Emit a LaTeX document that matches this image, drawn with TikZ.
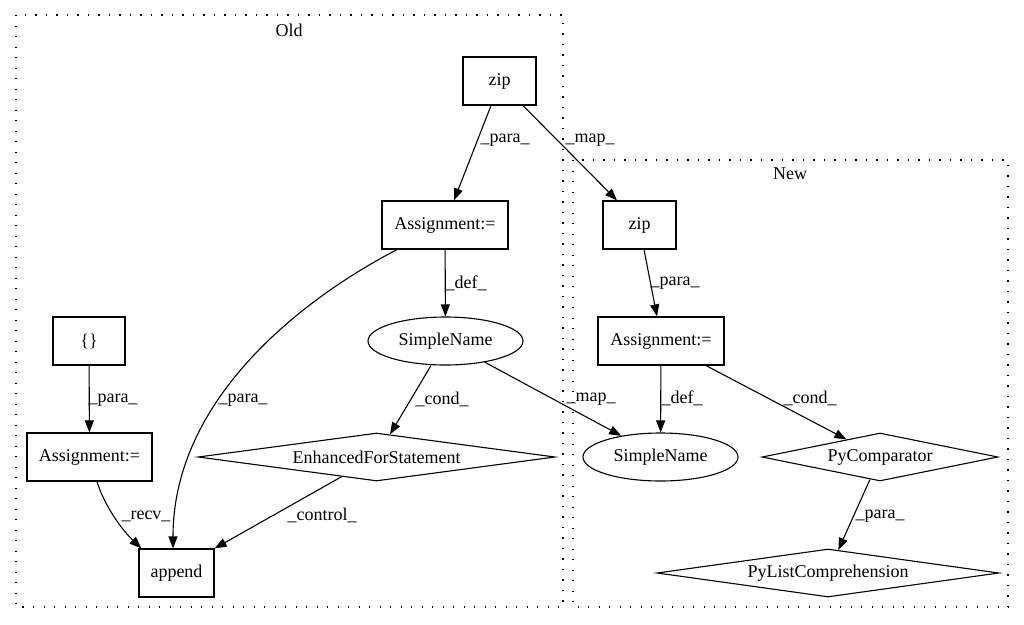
\documentclass[tikz,border=0pt]{standalone}
\usepackage{fontspec}
\setmainfont{Liberation Serif}
\usetikzlibrary{arrows.meta,shapes.geometric}
\begin{document}
\begin{tikzpicture}[x=1pt,y=-1pt,
  every node/.style={font=\fontsize{18}{21}\selectfont, inner sep=0pt},
  box/.style={draw, line width=1.2pt, rectangle, minimum height=48pt},
  oval/.style={draw, line width=1.1pt, ellipse, minimum height=48pt},
  dia/.style={draw, line width=1.1pt, diamond, minimum height=48pt},
  lbl/.style={anchor=center},
  cluster/.style={draw, line width=1.4pt, dash pattern=on 1.4pt off 9.1pt},
  edge/.style={draw, line width=1.1pt, -{Triangle[length=12pt,width=9pt]}}
]
\useasboundingbox (0,0) rectangle (1024,624);

% clusters
\draw[cluster] (16,15) rectangle (563,607);
\node (oldlbl) at (289,30) {Old};
\draw[cluster] (573,160) rectangle (1008,607);
\node (newlbl) at (790,174) {New};

% Old nodes
\node[box, minimum width=73pt] (zipO) at (499.5,81) {zip};
\node[box, minimum width=126pt] (asgO) at (445,225) {Assignment:=};
\node[oval, minimum width=155pt] (snO) at (445.5,341) {SimpleName};
\node[box, minimum width=72pt] (br) at (89,341) {\{\}};
\node[box, minimum width=125pt] (asgL) at (89.5,457) {Assignment:=};
\node[dia, minimum width=357pt, aspect=7.4] (efs) at (376.5,457) {EnhancedForStatement};
\node[box, minimum width=75pt] (app) at (176.5,573) {append};

% New nodes
\node[box, minimum width=73pt] (zipN) at (639.5,225) {zip};
\node[box, minimum width=126pt] (asgN) at (661,341) {Assignment:=};
\node[oval, minimum width=155pt] (snN) at (660.5,457) {SimpleName};
\node[dia, minimum width=236pt, aspect=4.9] (pyc) at (880,457) {PyComparator};
\node[dia, minimum width=342pt, aspect=7.1] (plc) at (828,573) {PyListComprehension};

% edges
\draw[edge] ([xshift=-8.5pt]zipO.south) -- ([xshift=9pt]asgO.north);
\node[lbl] (l1) at (505,140) {\_para\_};
\draw[edge] ([xshift=23.5pt]zipO.south) -- ([xshift=-22.5pt]zipN.north);
\node[lbl] (l2) at (590,140) {\_map\_};
\draw[edge] (asgO) -- (snO);
\node[lbl] (l3) at (466,283) {\_def\_};
\draw[edge] ([xshift=-48pt]asgO.south) .. controls (300,300) and (173,400) .. ([xshift=-3.5pt]app.north);
\node[lbl] (l4) at (243,400) {\_para\_};
\draw[edge] (br) -- (asgL);
\node[lbl] (l5) at (113,400) {\_para\_};
\draw[edge] ([xshift=-14.5pt]snO.south) -- (efs);
\node[lbl] (l6) at (442,399) {\_cond\_};
\draw[edge] (snO) -- (snN);
\node[lbl] (l7) at (591,399) {\_map\_};
\draw[edge] ([xshift=7.5pt]asgL.south) .. controls (104,505) and (122,530) .. ([xshift=3pt]app.north west);
\node[lbl] (l8) at (146,516) {\_recv\_};
\draw[edge] (efs) -- (app.north east);
\node[lbl] (l9) at (322,515) {\_control\_};

\draw[edge] ([xshift=4.5pt]zipN.south) -- ([xshift=-4pt]asgN.north);
\node[lbl] (l10) at (675,283) {\_para\_};
\draw[edge] (asgN) -- (snN);
\node[lbl] (l11) at (682,398) {\_def\_};
\draw[edge] ([xshift=45pt]asgN.south) -- (pyc);
\node[lbl] (l12) at (810,398) {\_cond\_};
\draw[edge] (pyc) -- (plc);
\node[lbl] (l13) at (880,516) {\_para\_};
\end{tikzpicture}
\end{document}
